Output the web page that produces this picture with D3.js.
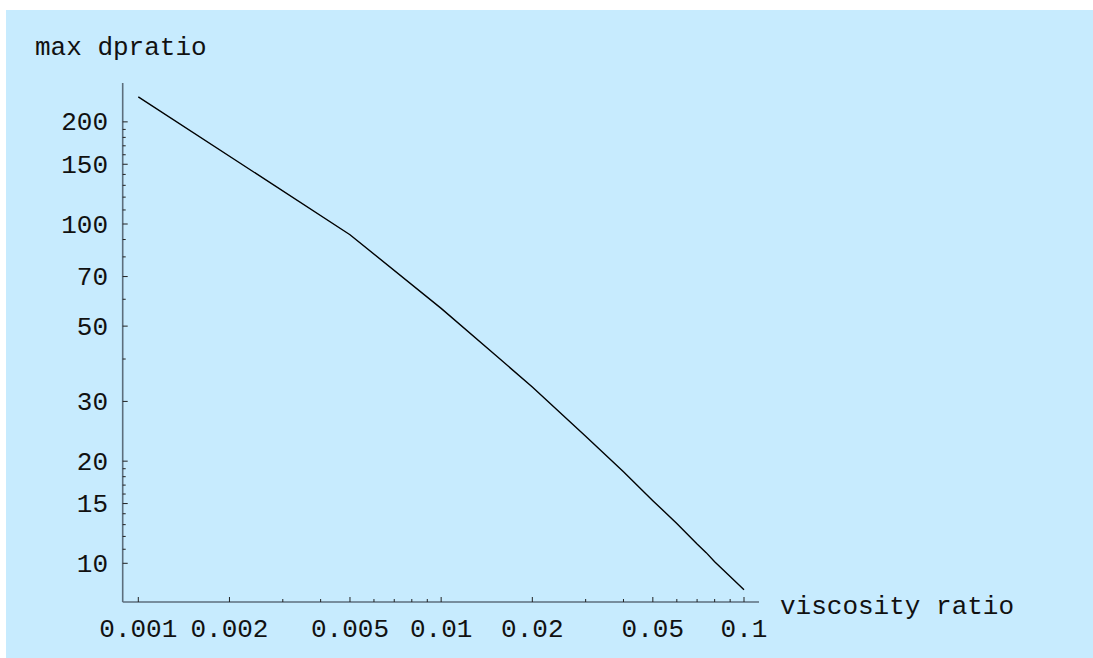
<!DOCTYPE html>
<html>
<head>
<meta charset="utf-8">
<script src="https://cdn.jsdelivr.net/npm/d3@7"></script>
<style>
  html, body { margin: 0; padding: 0; background: #fff; }
  svg text { font-family: "Liberation Mono", "Courier New", monospace; fill: #111; }
</style>
</head>
<body>
<svg id="chart" width="1093" height="658"></svg>
<script>
// viscosity ratio vs max dpratio
const viscosity = [0.001, 0.005, 0.01, 0.015, 0.02, 0.03, 0.04, 0.05, 0.06, 0.07, 0.075, 0.08, 0.09, 0.1];
const dpratio   = [237,   93,    56.4, 41.3,  33.1, 23.7, 18.6, 15.3, 13.1, 11.4, 10.75, 10.1, 9.15, 8.35];

const xMajor = [0.001, 0.002, 0.005, 0.01, 0.02, 0.05, 0.1];
const xMinor = [0.003, 0.004, 0.006, 0.007, 0.008, 0.009, 0.03, 0.04, 0.06, 0.07, 0.08, 0.09];
const yMajor = [10, 15, 20, 30, 50, 70, 100, 150, 200];
const yMinor = [11, 12, 13, 14, 16, 17, 18, 19, 40, 60, 80, 90, 110, 120, 130, 140, 160, 170, 180, 190];

const svg = d3.select('#chart');

svg.append('rect')
  .attr('x', 6).attr('y', 10)
  .attr('width', 1093 - 6).attr('height', 658 - 10)
  .attr('fill', '#c7ebfe');

// log scales, pinned to where the reference puts its ticks
const x = d3.scaleLog().domain([0.001, 0.1]).range([138.3, 744]);
const y = d3.scaleLog().domain([10, 100]).range([563.3, 224]);

const x0 = 122.7, x1 = 759, y0 = 602, y1 = 83;

const axisColor = '#5d6e7c';

// axes lines
svg.append('line')
  .attr('x1', x0).attr('x2', x1).attr('y1', y0).attr('y2', y0)
  .attr('stroke', axisColor).attr('stroke-width', 1.6);
svg.append('line')
  .attr('x1', x0).attr('x2', x0).attr('y1', y0).attr('y2', y1)
  .attr('stroke', axisColor).attr('stroke-width', 1.6);

// x ticks
svg.selectAll('.xmaj')
  .data(xMajor)
  .enter()
  .append('line')
  .attr('x1', d => x(d)).attr('x2', d => x(d))
  .attr('y1', y0).attr('y2', y0 - 5)
  .attr('stroke', '#222').attr('stroke-width', 1);
svg.selectAll('.xmin')
  .data(xMinor)
  .enter()
  .append('line')
  .attr('x1', d => x(d)).attr('x2', d => x(d))
  .attr('y1', y0).attr('y2', y0 - 3)
  .attr('stroke', '#222').attr('stroke-width', 1);

svg.selectAll('.xlab')
  .data(xMajor)
  .enter()
  .append('text')
  .attr('x', d => x(d))
  .attr('y', 637)
  .attr('text-anchor', 'middle')
  .attr('font-size', 26)
  .text(d => String(d));

// y ticks
svg.selectAll('.ymaj')
  .data(yMajor)
  .enter()
  .append('line')
  .attr('x1', x0).attr('x2', x0 + 5)
  .attr('y1', d => y(d)).attr('y2', d => y(d))
  .attr('stroke', '#222').attr('stroke-width', 1);
svg.selectAll('.ymin')
  .data(yMinor)
  .enter()
  .append('line')
  .attr('x1', x0).attr('x2', x0 + 3)
  .attr('y1', d => y(d)).attr('y2', d => y(d))
  .attr('stroke', '#222').attr('stroke-width', 1);

svg.selectAll('.ylab')
  .data(yMajor)
  .enter()
  .append('text')
  .attr('x', 108)
  .attr('y', d => y(d) + 8.5)
  .attr('text-anchor', 'end')
  .attr('font-size', 26)
  .text(d => String(d));

// axis titles
svg.append('text')
  .attr('x', 35).attr('y', 55)
  .attr('font-size', 26)
  .text('max dpratio');
svg.append('text')
  .attr('x', 780).attr('y', 614)
  .attr('font-size', 26)
  .text('viscosity ratio');

// the curve
const pts = viscosity.map((v, i) => [v, dpratio[i]]);
svg.append('path')
  .datum(pts)
  .attr('d', d3.line().x(d => x(d[0])).y(d => y(d[1])))
  .attr('fill', 'none')
  .attr('stroke', '#000')
  .attr('stroke-width', 1.4);
</script>
</body>
</html>
